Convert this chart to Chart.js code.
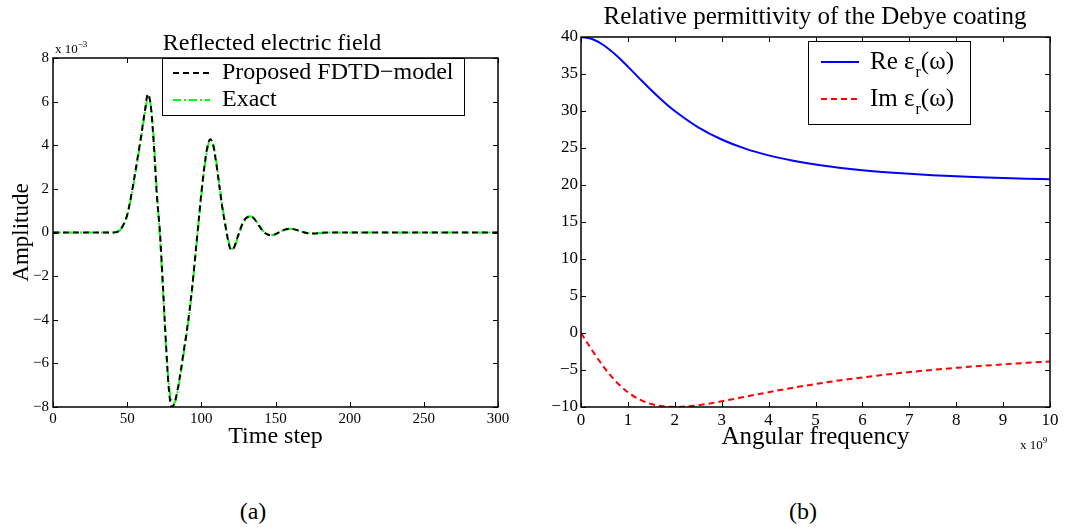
<!DOCTYPE html>
<html>
<head>
<meta charset="utf-8">
<script src="https://cdn.jsdelivr.net/npm/chart.js@4.4.0/dist/chart.umd.min.js"></script>
<style>
  body { margin: 0; background: #fff; width: 1072px; height: 529px; position: relative; overflow: hidden; font-family: "Liberation Serif", serif; }
  .box { position: absolute; top: 0; width: 536px; height: 460px; }
  .txt { position: absolute; white-space: nowrap; color: #000; line-height: 1; }
  .mid { transform: translateX(-50%); }
  sup { font-size: 9px; vertical-align: 6px; }
</style>
</head>
<body>
<div class="box" style="left:0"><canvas id="leftChart"></canvas></div>
<div class="box" style="left:536px"><canvas id="rightChart"></canvas></div>

<div class="txt mid" style="left:272px; top:30px; font-size:24px">Reflected electric field</div>
<div class="txt mid" style="left:815px; top:3px; font-size:25px">Relative permittivity of the Debye coating</div>
<div class="txt" style="left:55px; top:40px; font-size:13px">x 10<sup>−3</sup></div>
<div class="txt" style="left:1020px; top:436px; font-size:13px">x 10<sup>9</sup></div>
<div class="txt mid" style="left:253px; top:499px; font-size:24px">(a)</div>
<div class="txt mid" style="left:803px; top:499px; font-size:24px">(b)</div>

<script>
// (a) reflected field, amplitude in units of 1e-3
const timeSteps = [0, 40, 44, 47, 50, 53, 56, 59, 62, 64, 66, 68, 70, 72, 74, 76, 78, 80, 82, 84, 86, 88, 90, 92, 94, 96, 98, 100,
  102, 104, 106, 108, 110, 112, 114, 116, 118, 120, 122, 124, 126, 128, 130, 133, 136, 139, 142, 145, 148, 151, 155, 160,
  164, 168, 172, 176, 180, 185, 200, 250, 300];
const fdtdField = [0, 0, 0.05, 0.3, 0.8, 1.8, 3.0, 4.25, 5.6, 6.35, 5.75, 4.0, 1.7, 0.1, -2.3, -4.9, -7.1, -8.0, -7.8, -7.2, -6.4, -5.5,
  -4.6, -3.6, -2.4, -1.0, 0.4, 1.8, 3.0, 3.9, 4.28, 4.0, 3.2, 2.2, 1.2, 0.4, -0.35, -0.8, -0.7, -0.3, 0.1, 0.45, 0.65, 0.75,
  0.6, 0.3, 0.03, -0.1, -0.12, -0.04, 0.1, 0.18, 0.12, 0.03, -0.04, -0.05, -0.02, 0, 0, 0, 0];
const exactField = [0, 0, 0.04, 0.28, 0.78, 1.7, 2.9, 4.15, 5.5, 6.2, 5.8, 4.2, 1.9, -0.1, -2.5, -5.0, -6.9, -7.7, -7.8, -7.3, -6.5, -5.6,
  -4.7, -3.7, -2.5, -1.1, 0.3, 1.7, 2.9, 3.8, 4.25, 4.05, 3.3, 2.3, 1.3, 0.45, -0.3, -0.75, -0.72, -0.35, 0.05, 0.42, 0.62, 0.74,
  0.62, 0.32, 0.05, -0.08, -0.12, -0.05, 0.09, 0.17, 0.12, 0.04, -0.03, -0.05, -0.02, 0, 0, 0, 0];

// (b) Debye permittivity, angular frequency in units of 1e9
const omega = [0, 0.25, 0.5, 0.75, 1, 1.25, 1.5, 1.75, 2, 2.5, 3, 3.5, 4, 4.5, 5, 5.5, 6, 6.5, 7, 7.5, 8, 8.5, 9, 9.5, 10];
const reEps = [40, 39.69, 38.82, 37.53, 36.0, 34.38, 32.8, 31.33, 30.0, 27.8, 26.15, 24.92, 24.0, 23.3, 22.76, 22.34, 22.0,
  21.73, 21.51, 21.33, 21.18, 21.05, 20.94, 20.85, 20.77];
const imEps = [0, -2.46, -4.71, -6.58, -8.0, -8.99, -9.6, -9.91, -10.0, -9.76, -9.23, -8.62, -8.0, -7.42, -6.9, -6.42, -6.0,
  -5.62, -5.28, -4.98, -4.71, -4.46, -4.24, -4.03, -3.85];

const toPoints = (xs, ys) => xs.map((x, i) => ({ x, y: ys[i] }));
const minus = v => (v < 0 ? '\u2212' + Math.abs(v) : '' + v);

Chart.defaults.font.family = '"Liberation Serif", serif';
Chart.defaults.color = '#000';

// matlab style box, inward ticks and the legend box
const matlabFrame = {
  id: 'matlabFrame',
  afterDatasetsDraw(chart, args, opts) {
    const { ctx, chartArea: a, scales: { x, y } } = chart;
    ctx.save();
    ctx.strokeStyle = '#000';
    ctx.lineWidth = 1;
    ctx.setLineDash([]);
    ctx.beginPath();
    x.ticks.forEach(t => {
      const px = Math.round(x.getPixelForValue(t.value)) + 0.5;
      ctx.moveTo(px, a.bottom); ctx.lineTo(px, a.bottom - 5);
      ctx.moveTo(px, a.top); ctx.lineTo(px, a.top + 5);
    });
    y.ticks.forEach(t => {
      const py = Math.round(y.getPixelForValue(t.value)) + 0.5;
      ctx.moveTo(a.left, py); ctx.lineTo(a.left + 5, py);
      ctx.moveTo(a.right, py); ctx.lineTo(a.right - 5, py);
    });
    ctx.stroke();
    ctx.lineWidth = 1.5;
    ctx.strokeRect(a.left, a.top, a.right - a.left, a.bottom - a.top);

    // legend
    const [bx, by, bw, bh] = opts.box;
    ctx.fillStyle = '#fff';
    ctx.fillRect(bx, by, bw, bh);
    ctx.lineWidth = 1;
    ctx.strokeRect(bx + 0.5, by + 0.5, bw, bh);
    ctx.textBaseline = 'middle';
    ctx.fillStyle = '#000';
    const big = opts.font + 'px "Liberation Serif", serif';
    chart.data.datasets.forEach((ds, i) => {
      const ry = opts.rows[i];
      ctx.strokeStyle = ds.borderColor;
      ctx.lineWidth = ds.borderWidth;
      ctx.setLineDash(ds.borderDash || []);
      ctx.beginPath();
      ctx.moveTo(opts.line[0], ry);
      ctx.lineTo(opts.line[1], ry);
      ctx.stroke();
      ctx.setLineDash([]);
      let tx = opts.text;
      const parts = ds.label.split('_');
      ctx.font = big;
      ctx.fillText(parts[0], tx, ry);
      tx += ctx.measureText(parts[0]).width;
      if (parts.length > 1) {
        ctx.font = '16px "Liberation Serif", serif';
        ctx.fillText(parts[1][0], tx + 1, ry + 11);
        tx += ctx.measureText(parts[1][0]).width + 1;
        ctx.font = big;
        ctx.fillText(parts[1].slice(1), tx, ry);
      }
    });
    ctx.restore();
  }
};

const axisCommon = (min, max, step, size, pad) => ({
  type: 'linear',
  min, max,
  grid: { display: false, drawTicks: false },
  border: { display: false },
  ticks: { stepSize: step, padding: pad, font: { size }, callback: minus, maxRotation: 0, autoSkip: false },
});

new Chart(document.getElementById('leftChart'), {
  type: 'line',
  data: {
    datasets: [
      { label: 'Proposed FDTD\u2212model', data: toPoints(timeSteps, fdtdField), borderColor: '#000', borderWidth: 2, borderDash: [6, 4] },
      { label: 'Exact', data: toPoints(timeSteps, exactField), borderColor: '#00ff00', borderWidth: 2, borderDash: [8, 3, 2, 3] },
    ]
  },
  options: {
    responsive: true,
    maintainAspectRatio: false,
    animation: false,
    layout: { padding: { left: 0, top: 58, right: 38, bottom: 0 } },
    elements: { point: { radius: 0 }, line: { cubicInterpolationMode: 'monotone', fill: false } },
    scales: {
      x: { ...axisCommon(0, 300, 50, 15, 3),
        title: { display: true, text: 'Time step', font: { size: 24 }, padding: { top: 0, bottom: 9 } },
        afterFit: s => { s.height = 53; } },
      y: { ...axisCommon(-8, 8, 2, 15, 4),
        title: { display: true, text: 'Amplitude', font: { size: 23 }, padding: { top: 8, bottom: 0 } },
        afterFit: s => { s.width = 53; } },
    },
    plugins: {
      legend: { display: false },
      tooltip: { enabled: false },
      matlabFrame: { box: [162, 58, 302, 57], rows: [73, 100], line: [173, 210], text: 222, font: 24 },
    }
  },
  plugins: [matlabFrame]
});

new Chart(document.getElementById('rightChart'), {
  type: 'line',
  data: {
    datasets: [
      { label: 'Re \u03b5_r(\u03c9)', data: toPoints(omega, reEps), borderColor: '#0000ff', borderWidth: 2 },
      { label: 'Im \u03b5_r(\u03c9)', data: toPoints(omega, imEps), borderColor: '#ff0000', borderWidth: 2, borderDash: [6, 4] },
    ]
  },
  options: {
    responsive: true,
    maintainAspectRatio: false,
    animation: false,
    layout: { padding: { left: 0, top: 37, right: 22, bottom: 0 } },
    elements: { point: { radius: 0 }, line: { cubicInterpolationMode: 'monotone', fill: false } },
    scales: {
      x: { ...axisCommon(0, 10, 1, 17, 3),
        title: { display: true, text: 'Angular frequency', font: { size: 25 }, padding: { top: 0, bottom: 8 } },
        afterFit: s => { s.height = 53; } },
      y: { ...axisCommon(-10, 40, 5, 17, 3),
        afterFit: s => { s.width = 45; } },
    },
    plugins: {
      legend: { display: false },
      tooltip: { enabled: false },
      matlabFrame: { box: [272, 41, 162, 83], rows: [62, 99], line: [285, 323], text: 334, font: 25 },
    }
  },
  plugins: [matlabFrame]
});
</script>
</body>
</html>
